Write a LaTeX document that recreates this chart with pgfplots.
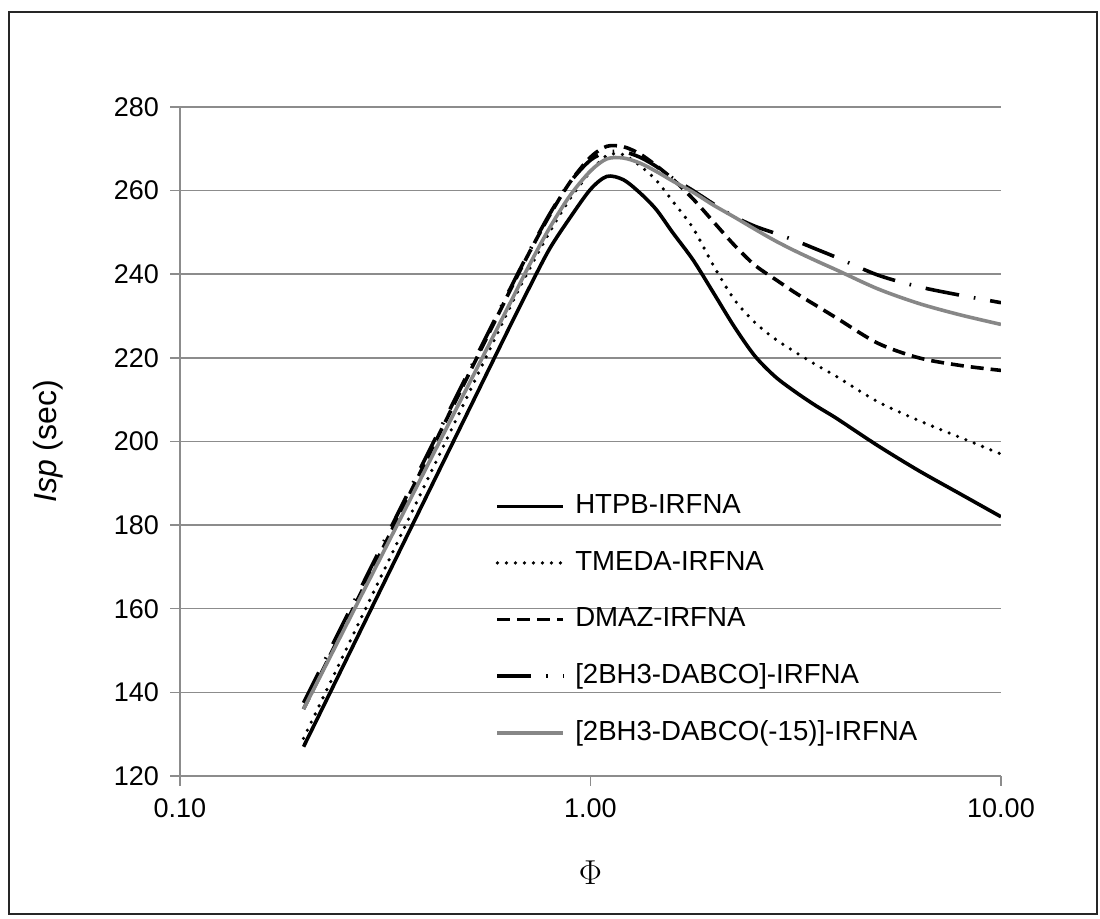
\documentclass[border=0pt]{standalone}
\usepackage{fontspec}
\setmainfont{Liberation Sans}
\usepackage{pgfplots}
\pgfplotsset{compat=1.18}
\definecolor{gridgray}{RGB}{140,140,140}
\definecolor{curvegray}{RGB}{135,135,135}
\begin{document}
\begin{tikzpicture}
\useasboundingbox (-90pt,-71.5pt) rectangle (460pt,388pt);
\draw[line width=1.4pt, black!85] (-85.5pt,-69pt) rectangle (458.5pt,382pt);
\begin{axis}[
    at={(0,0)}, anchor=south west,
    width=410.5pt, height=334.5pt, scale only axis,
    xmode=log, xmin=0.1, xmax=10,
    ymin=120, ymax=280,
    xtick={0.1,1,10}, xticklabels={0.10,1.00,10.00},
    ytick={120,140,...,280},
    xminorticks=false,
    axis x line*=bottom, axis y line*=left,
    axis line style={gridgray, line width=0.75pt},
    tick align=outside, major tick length=5pt,
    tick style={gridgray, line width=0.75pt},
    ymajorgrids, grid style={gridgray, line width=0.75pt},
    every tick label/.append style={font=\fontsize{13.5}{15}\selectfont},
    /pgf/number format/assume math mode=true,
    yticklabel style={xshift=-2pt},
    xticklabel style={yshift=-3pt},
    ylabel={\textit{Isp} (sec)},
    ylabel style={font=\fontsize{16}{18}\selectfont, at={(axis description cs:-0.16,0.5)}, anchor=center},
    xlabel={$\Phi$},
    xlabel style={font=\fontsize{19}{22}\selectfont, at={(axis description cs:0.5,-0.145)}, anchor=center},
    legend style={draw=none, fill=none, inner sep=0pt, at={(0.384,0.422)}, anchor=north west,
        font=\fontsize{13.8}{16}\selectfont, row sep=16pt, column sep=5pt,
        nodes={inner sep=0pt, text height=9.8pt, text depth=2.5pt}},
    legend cell align=left,
    legend image code/.code={\draw[#1] (0pt,0pt) -- (33pt,0pt);},
]
% HTPB-IRFNA
\addplot[black, line width=1.8pt, smooth] coordinates {
    (0.2,127) (0.2512,146.8) (0.3162,166.8) (0.3981,186.8) (0.5012,206.8)
    (0.6310,226.8) (0.7079,236.6) (0.7943,246) (0.8913,253.5) (1.0,260.3)
    (1.0965,263.4) (1.2023,262.6) (1.3183,259.5) (1.4454,255.5) (1.5849,250)
    (1.7783,243.4) (1.9953,235.5) (2.2387,227.5) (2.5119,220.5) (2.8184,215.5)
    (3.1623,211.8) (3.5481,208.5) (3.9811,205.5) (5.0119,199) (6.3096,193)
    (7.9433,187.5) (10,182)
};
\addlegendentry{HTPB-IRFNA}
% TMEDA-IRFNA
\addplot[black, line width=1.8pt, line cap=round, dash pattern=on 0pt off 4.5pt, smooth] coordinates {
    (0.2,129) (0.2512,149.3) (0.3162,169.8) (0.3981,190.3) (0.5012,210.8)
    (0.6310,231.3) (0.7079,241) (0.7943,250) (0.8913,258) (1.0,264.5)
    (1.0965,268.4) (1.2023,268.6) (1.3183,266) (1.4454,262.5) (1.5849,257.5)
    (1.7783,251) (1.9953,242) (2.2387,234) (2.5119,228.5) (2.8184,224.5)
    (3.1623,221.3) (3.5481,218.3) (3.9811,215.5) (5.0119,209.5) (6.3096,205)
    (7.9433,201) (10,197)
};
\addlegendentry{TMEDA-IRFNA}
% DMAZ-IRFNA
\addplot[black, line width=1.8pt, dash pattern=on 6.5pt off 3.5pt, smooth] coordinates {
    (0.2,136) (0.2512,155.7) (0.3162,175.6) (0.3981,195.5) (0.5012,215.4)
    (0.6310,235.3) (0.7079,245) (0.7943,254) (0.8913,262) (1.0,268)
    (1.0965,270.6) (1.2023,270.5) (1.3183,268.8) (1.4454,266) (1.5849,262.8)
    (1.7783,258) (1.9953,252.5) (2.2387,247) (2.5119,242.2) (2.8184,238.8)
    (3.1623,235.5) (3.5481,232.5) (3.9811,229.5) (5.0119,223.5) (6.3096,220)
    (7.9433,218.2) (10,217)
};
\addlegendentry{DMAZ-IRFNA}
% [2BH3-DABCO]-IRFNA
\addplot[black, line width=1.8pt, dash pattern=on 17pt off 7.5pt on 0.8pt off 7.5pt, smooth] coordinates {
    (0.2,137.5) (0.2512,157) (0.3162,176.7) (0.3981,196.4) (0.5012,216)
    (0.6310,235.7) (0.7079,245.3) (0.7943,254.3) (0.8913,262) (1.0,267.3)
    (1.0965,269.2) (1.2023,269.3) (1.3183,268) (1.4454,265.8) (1.5849,263)
    (1.7783,260) (1.9953,256.8) (2.2387,253.8) (2.5119,251.5) (2.8184,249.8)
    (3.1623,248) (3.5481,246) (3.9811,244) (5.0119,239.8) (6.3096,237)
    (7.9433,235) (10,233.2)
};
\addlegendentry{[2BH3-DABCO]-IRFNA}
% [2BH3-DABCO(-15)]-IRFNA
\addplot[curvegray, line width=1.8pt, smooth] coordinates {
    (0.2,136) (0.2512,155.1) (0.3162,174.4) (0.3981,193.7) (0.5012,213)
    (0.6310,232.3) (0.7079,242) (0.7943,251) (0.8913,258.8) (1.0,264.7)
    (1.0965,267.6) (1.2023,267.8) (1.3183,266.6) (1.4454,264.6) (1.5849,262.3)
    (1.7783,259.6) (1.9953,256.5) (2.2387,253.7) (2.5119,250.8) (2.8184,248)
    (3.1623,245.5) (3.5481,243.2) (3.9811,241) (5.0119,236.5) (6.3096,233)
    (7.9433,230.3) (10,228)
};
\addlegendentry{[2BH3-DABCO(-15)]-IRFNA}
\end{axis}
\end{tikzpicture}
\end{document}
